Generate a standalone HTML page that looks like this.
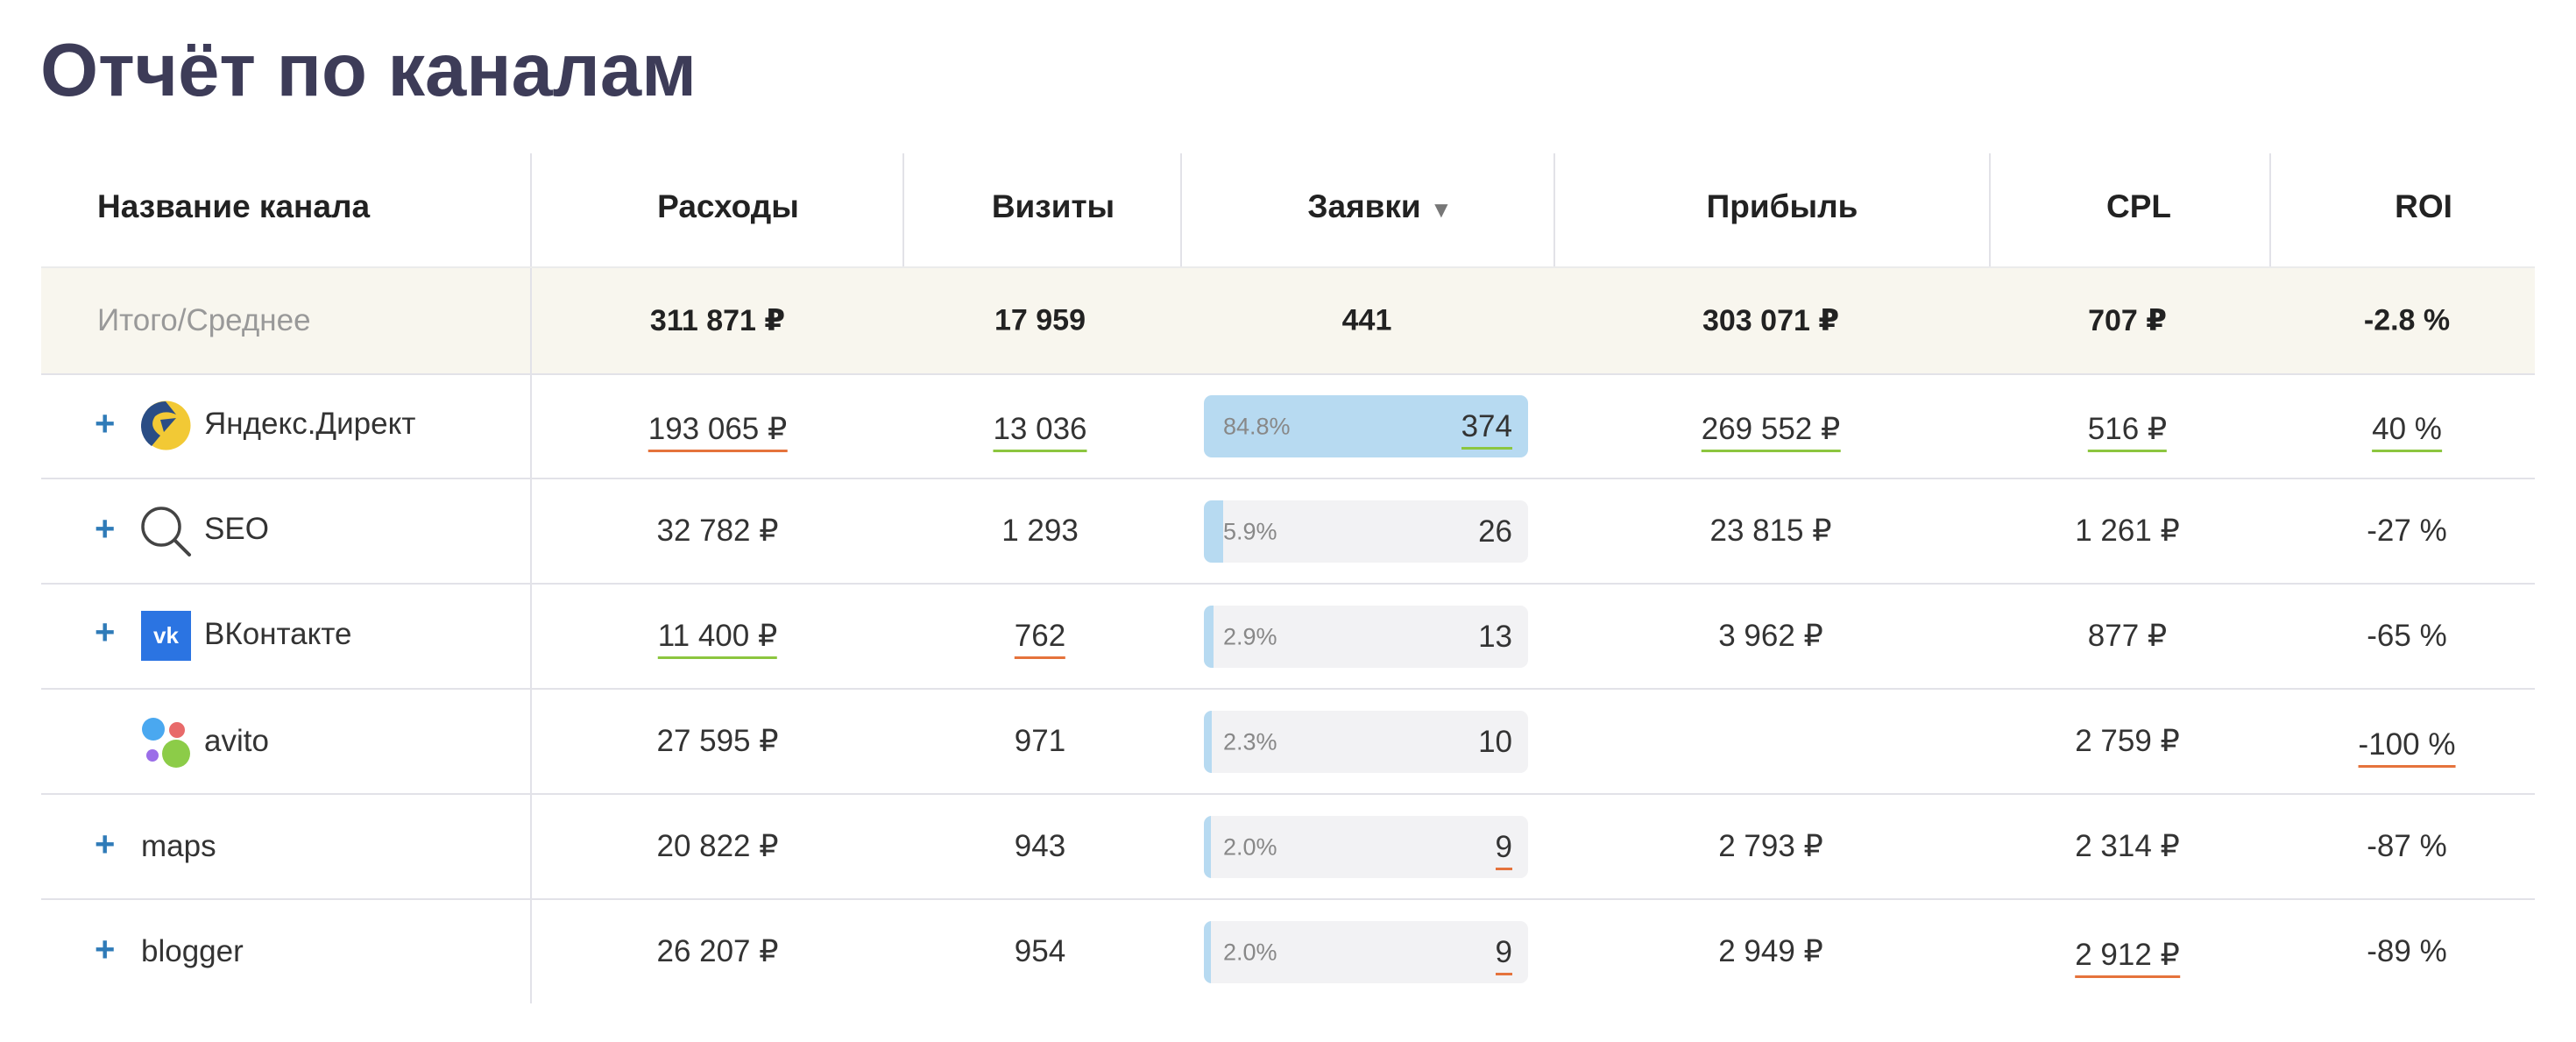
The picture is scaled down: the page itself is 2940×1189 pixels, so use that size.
<!DOCTYPE html>
<html><head><meta charset="utf-8"><style>
body{margin:0;width:2940px;height:1189px;background:#fff;position:relative;overflow:hidden;font-family:"Liberation Sans","DejaVu Sans",sans-serif;color:#333}
.a{position:absolute}
.t{position:absolute;white-space:nowrap;transform:translate(-50%,-50%);font-size:35px}
.l{position:absolute;white-space:nowrap;transform:translateY(-50%);font-size:35px}
.h{font-weight:bold;font-size:37px;color:#222}
.b{font-weight:bold;font-size:34px;color:#222}
.uo{border-bottom:3px solid #e5733c;padding-bottom:4px}
.ug{border-bottom:3px solid #8cc63f;padding-bottom:4px}
.hr{position:absolute;left:47px;width:2846px;height:2px;background:#e2e2e8}
.vl{position:absolute;width:2px;background:#e2e2e8}
.plus{position:absolute;left:108px;font-size:40px;font-weight:bold;color:#2f7bb8;transform:translateY(-50%)}
.bar{position:absolute;left:1374px;width:370px;height:71px;border-radius:9px;background:#f2f2f4;overflow:hidden}
.bar i{position:absolute;left:0;top:0;bottom:0;background:#b7daf1}
.bar .p{position:absolute;left:22px;top:50%;transform:translateY(-50%);font-size:27px;color:#888}
.bar .n{position:absolute;right:18px;top:50%;transform:translateY(-50%);font-size:35px;color:#333}
</style></head><body>
<div class="a" style="left:46px;top:32px;font-size:85px;font-weight:bold;color:#3d3c58">Отчёт по каналам</div>

<div class="a" style="left:47px;top:306px;width:2846px;height:121px;background:#f8f6ee"></div>
<div class="vl" style="left:605px;top:175px;height:970px"></div>
<div class="vl" style="left:1030px;top:175px;height:130px"></div>
<div class="vl" style="left:1347px;top:175px;height:130px"></div>
<div class="vl" style="left:1773px;top:175px;height:130px"></div>
<div class="vl" style="left:2270px;top:175px;height:130px"></div>
<div class="vl" style="left:2590px;top:175px;height:130px"></div>
<div class="hr" style="top:304px;background:#ebebeb"></div>
<div class="hr" style="top:426px"></div>
<div class="hr" style="top:545px"></div>
<div class="hr" style="top:665px"></div>
<div class="hr" style="top:785px"></div>
<div class="hr" style="top:905px"></div>
<div class="hr" style="top:1025px"></div>

<div class="l h" style="left:111px;top:236px">Название канала</div>
<div class="t h" style="left:831px;top:236px">Расходы</div>
<div class="t h" style="left:1202px;top:236px">Визиты</div>
<div class="t h" style="left:1575px;top:236px">Заявки <span style="font-size:26px;color:#777">▼</span></div>
<div class="t h" style="left:2034px;top:236px">Прибыль</div>
<div class="t h" style="left:2441px;top:236px">CPL</div>
<div class="t h" style="left:2766px;top:236px">ROI</div>

<div class="l" style="left:111px;top:366px;color:#999">Итого/Среднее</div>
<div class="t b" style="left:819px;top:366px">311 871 ₽</div>
<div class="t b" style="left:1187px;top:366px">17 959</div>
<div class="t b" style="left:1560px;top:366px">441</div>
<div class="t b" style="left:2021px;top:366px">303 071 ₽</div>
<div class="t b" style="left:2428px;top:366px">707 ₽</div>
<div class="t b" style="left:2747px;top:366px">-2.8 %</div>

<div class="plus" style="top:484px">+</div>
<svg class="a" style="left:161px;top:457px" width="57" height="57" viewBox="0 0 57 57"><circle cx="28.5" cy="28.5" r="28" fill="#f2c935"/><path d="M28 1 A28 28 0 0 0 12 52 L22 40 Q8 30 16 18 Q26 10 40 16 Z" fill="#2a4d85"/><path d="M22 22 L40 20 L26 36 Z" fill="#2a4d85"/></svg>
<div class="l" style="left:233px;top:484px">Яндекс.Директ</div>
<div class="t" style="left:819px;top:490px"><span class="uo">193 065 ₽</span></div>
<div class="t" style="left:1187px;top:490px"><span class="ug">13 036</span></div>
<div class="bar" style="top:451px;background:#b7daf1"><span class="p">84.8%</span><span class="n"><span class="ug">374</span></span></div>
<div class="t" style="left:2021px;top:490px"><span class="ug">269 552 ₽</span></div>
<div class="t" style="left:2428px;top:490px"><span class="ug">516 ₽</span></div>
<div class="t" style="left:2747px;top:490px"><span class="ug">40 %</span></div>

<div class="plus" style="top:604px">+</div>
<svg class="a" style="left:160px;top:577px" width="60" height="60" viewBox="0 0 60 60"><circle cx="24" cy="24" r="21" fill="none" stroke="#444" stroke-width="3.5"/><line x1="39" y1="39" x2="56" y2="56" stroke="#444" stroke-width="4" stroke-linecap="round"/></svg>
<div class="l" style="left:233px;top:604px">SEO</div>
<div class="t" style="left:819px;top:606px">32 782 ₽</div>
<div class="t" style="left:1187px;top:606px">1 293</div>
<div class="bar" style="top:571px"><i style="width:22px"></i><span class="p">5.9%</span><span class="n">26</span></div>
<div class="t" style="left:2021px;top:606px">23 815 ₽</div>
<div class="t" style="left:2428px;top:606px">1 261 ₽</div>
<div class="t" style="left:2747px;top:606px">-27 %</div>

<div class="plus" style="top:722px">+</div>
<div class="a" style="left:161px;top:697px;width:57px;height:57px;background:#2b74e2;color:#fff;font-weight:bold;font-size:26px;line-height:57px;text-align:center">vk</div>
<div class="l" style="left:233px;top:724px">ВКонтакте</div>
<div class="t" style="left:819px;top:726px"><span class="ug">11 400 ₽</span></div>
<div class="t" style="left:1187px;top:726px"><span class="uo">762</span></div>
<div class="bar" style="top:691px"><i style="width:11px"></i><span class="p">2.9%</span><span class="n">13</span></div>
<div class="t" style="left:2021px;top:726px">3 962 ₽</div>
<div class="t" style="left:2428px;top:726px">877 ₽</div>
<div class="t" style="left:2747px;top:726px">-65 %</div>

<svg class="a" style="left:160px;top:817px" width="60" height="60" viewBox="0 0 60 60"><circle cx="15" cy="15" r="13" fill="#4aa8f0"/><circle cx="42" cy="16" r="9" fill="#e86a6a"/><circle cx="14" cy="45" r="7" fill="#9b6ee8"/><circle cx="41" cy="43" r="16" fill="#8ccc48"/></svg>
<div class="l" style="left:233px;top:846px">avito</div>
<div class="t" style="left:819px;top:846px">27 595 ₽</div>
<div class="t" style="left:1187px;top:846px">971</div>
<div class="bar" style="top:811px"><i style="width:9px"></i><span class="p">2.3%</span><span class="n">10</span></div>
<div class="t" style="left:2428px;top:846px">2 759 ₽</div>
<div class="t" style="left:2747px;top:850px"><span class="uo">-100 %</span></div>

<div class="plus" style="top:964px">+</div>
<div class="l" style="left:161px;top:966px">maps</div>
<div class="t" style="left:819px;top:966px">20 822 ₽</div>
<div class="t" style="left:1187px;top:966px">943</div>
<div class="bar" style="top:931px"><i style="width:8px"></i><span class="p">2.0%</span><span class="n"><span class="uo">9</span></span></div>
<div class="t" style="left:2021px;top:966px">2 793 ₽</div>
<div class="t" style="left:2428px;top:966px">2 314 ₽</div>
<div class="t" style="left:2747px;top:966px">-87 %</div>

<div class="plus" style="top:1084px">+</div>
<div class="l" style="left:161px;top:1086px">blogger</div>
<div class="t" style="left:819px;top:1086px">26 207 ₽</div>
<div class="t" style="left:1187px;top:1086px">954</div>
<div class="bar" style="top:1051px"><i style="width:8px"></i><span class="p">2.0%</span><span class="n"><span class="uo">9</span></span></div>
<div class="t" style="left:2021px;top:1086px">2 949 ₽</div>
<div class="t" style="left:2428px;top:1090px"><span class="uo">2 912 ₽</span></div>
<div class="t" style="left:2747px;top:1086px">-89 %</div>
</body></html>
